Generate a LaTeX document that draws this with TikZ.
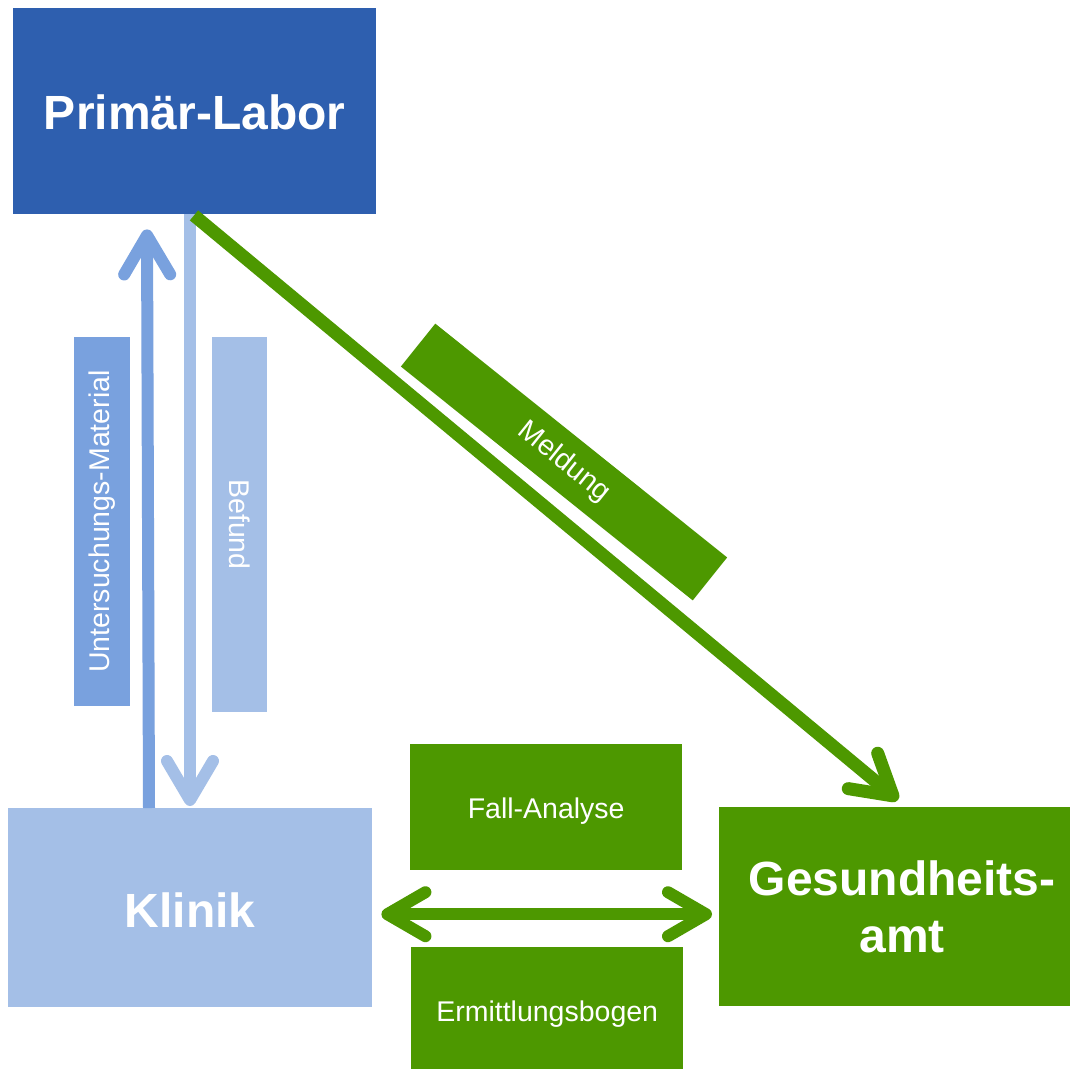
\documentclass[tikz,border=0pt]{standalone}
\usepackage{fontspec}
\setmainfont{Liberation Sans}
\usetikzlibrary{arrows.meta}
\definecolor{dblue}{RGB}{46,95,175}
\definecolor{mblue}{RGB}{121,161,222}
\definecolor{lblue}{RGB}{164,191,231}
\definecolor{dgreen}{RGB}{77,152,0}
\newcommand{\lowr}[2]{\raisebox{-#1}[\height][\depth]{#2}}
\tikzset{
  box/.style={inner sep=0pt, text=white, align=center},
  bigtxt/.style={font=\fontsize{48}{57}\selectfont\bfseries},
  smalltxt/.style={font=\fontsize{28.5}{34}\selectfont},
  tip/.style={-{Straight Barb[length=39pt,width=46pt,round]}},
  dtip/.style={{Straight Barb[length=38pt,width=44pt,round]}-{Straight Barb[length=38pt,width=44pt,round]}},
}
\begin{document}
\begin{tikzpicture}[x=1pt,y=-1pt]
\useasboundingbox[fill=white] (0,0) rectangle (1069,1070);
% main boxes
\node[box,bigtxt,fill=dblue,minimum width=363pt,minimum height=206pt,anchor=north west] (labor) at (13,8) {\lowr{1pt}{Primär-Labor}};
\node[box,bigtxt,fill=lblue,minimum width=364pt,minimum height=199pt,anchor=north west] (klinik) at (8,808) {\lowr{2pt}{Klinik}};
\node[box,bigtxt,fill=dgreen,minimum width=366pt,minimum height=199pt,anchor=north west] (gesund) at (719,807) {Gesundheits-\\amt};
% label boxes
\node[box,smalltxt,fill=dgreen,minimum width=272pt,minimum height=126pt,anchor=north west] (fall) at (410,744) {\lowr{4pt}{Fall-Analyse}};
\node[box,smalltxt,fill=dgreen,minimum width=272pt,minimum height=122pt,anchor=north west] (ermitt) at (411,947) {\lowr{6pt}{Ermittlungsbogen}};
\node[box,smalltxt,fill=mblue,rotate=90,minimum width=369pt,minimum height=56pt] (unters) at (102,521.5) {Untersuchungs-Material};
\node[box,smalltxt,fill=lblue,rotate=-90,minimum width=375pt,minimum height=55pt] (befund) at (239.5,524.5) {Befund};
\node[box,smalltxt,fill=dgreen,rotate=-38.7,minimum width=374pt,minimum height=55pt] (meldung) at (564,462) {Meldung};
% connectors
\draw[mblue,line width=12pt,tip] ([xshift=141pt]klinik.north west) -- ([xshift=134pt,yshift=-15pt]labor.south west);
\draw[lblue,line width=12pt,tip] ([xshift=177pt]labor.south west) -- ([xshift=182pt,yshift=2pt]klinik.north west);
\draw[dgreen,line width=13pt,tip] ([xshift=181pt,yshift=-1pt]labor.south west) -- ([xshift=179pt,yshift=7pt]gesund.north west);
\draw[dgreen,line width=12pt,dtip] ([xshift=9pt,yshift=-6.5pt]klinik.east) -- ([xshift=-7pt,yshift=-7.5pt]gesund.west);
\end{tikzpicture}
\end{document}
